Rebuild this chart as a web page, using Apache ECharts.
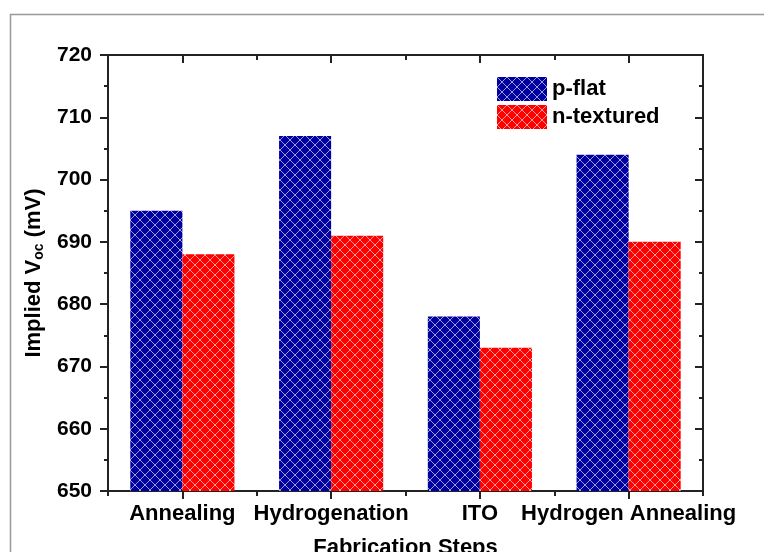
<!DOCTYPE html>
<html>
<head>
<meta charset="utf-8">
<script src="https://cdn.jsdelivr.net/npm/echarts@6/dist/echarts.min.js"></script>
<style>
  html, body { margin: 0; padding: 0; background: #fff; }
  #main { width: 764px; height: 552px; }
</style>
</head>
<body>
<div id="main"></div>
<script>
var categories = ['Annealing', 'Hydrogenation', 'ITO', 'Hydrogen Annealing'];
var pFlat = [695, 707, 678, 704];
var nTextured = [688, 691, 673, 690];
var yTicks = [650, 660, 670, 680, 690, 700, 710, 720];

// cross-hatch fill like the origin plot
function hatch(color) {
    var c = document.createElement('canvas');
    c.width = 10; c.height = 10;
    var ctx = c.getContext('2d');
    ctx.fillStyle = color;
    ctx.fillRect(0, 0, 10, 10);
    ctx.strokeStyle = 'rgba(255,255,255,0.6)';
    ctx.lineWidth = 1;
    ctx.beginPath();
    ctx.moveTo(-1, -1); ctx.lineTo(11, 11);
    ctx.moveTo(11, -1); ctx.lineTo(-1, 11);
    ctx.stroke();
    return { image: c, repeat: 'repeat' };
}

var axisLine = { show: true, lineStyle: { color: '#222', width: 2 } };
var font = 'Liberation Sans, Arial, sans-serif';

function catAxis(pos, center, len, inside, labels) {
    return {
        type: 'category',
        data: categories,
        position: pos,
        axisLine: axisLine,
        axisTick: { show: true, alignWithLabel: center, inside: inside, length: len,
                    lineStyle: { color: '#222', width: 2 } },
        axisLabel: labels ? { show: true, interval: 0, hideOverlap: false, color: '#000', fontSize: 22,
                              fontWeight: 'bold', fontFamily: font, margin: 12 } : { show: false },
        splitLine: { show: false }
    };
}

function valAxis(pos, inside, labels) {
    return {
        type: 'value',
        position: pos,
        min: yTicks[0],
        max: yTicks[yTicks.length - 1],
        interval: 10,
        axisLine: axisLine,
        axisTick: { show: true, inside: inside, length: 8, lineStyle: { color: '#222', width: 2 } },
        minorTick: { show: true, splitNumber: 2, length: 4, lineStyle: { color: '#222', width: 2 } },
        axisLabel: labels ? { show: true, color: '#000', fontSize: 21, fontWeight: 'bold',
                              fontFamily: font, margin: 16 } : { show: false },
        splitLine: { show: false }
    };
}

var xBottom = catAxis('bottom', true, 8, false, true);
xBottom.name = 'Fabrication Steps';
xBottom.nameLocation = 'middle';
xBottom.nameGap = 46;
xBottom.nameTextStyle = { color: '#000', fontSize: 22, fontWeight: 'bold', fontFamily: font };

var yLeft = valAxis('left', false, true);
yLeft.name = 'Implied V{sub|oc} (mV)';
yLeft.nameLocation = 'middle';
yLeft.nameGap = 52;
yLeft.nameTextStyle = {
    color: '#000', fontSize: 22, fontWeight: 'bold', fontFamily: font,
    rich: { sub: { fontSize: 14, fontWeight: 'bold', fontFamily: font, color: '#000',
                   verticalAlign: 'bottom', padding: [10, 0, 0, 0] } }
};

var chart = echarts.init(document.getElementById('main'));
chart.setOption({
    backgroundColor: '#fff',
    animation: false,
    grid: { left: 108, right: 61, top: 55, bottom: 61, containLabel: false, outerBoundsMode: 'none' },
    graphic: [{
        type: 'rect', left: 8, top: 12, silent: true,
        shape: { width: 800, height: 600 },
        style: { fill: 'none', stroke: '#999', lineWidth: 1.5 }
    }],
    legend: {
        orient: 'vertical', left: 497, top: 77, padding: 0, itemWidth: 50, itemHeight: 24, itemGap: 4,
        icon: 'rect',
        textStyle: { color: '#000', fontSize: 22, fontWeight: 'bold', fontFamily: font },
        data: ['p-flat', 'n-textured']
    },
    xAxis: [
        xBottom,
        catAxis('bottom', false, 5, false, false),
        catAxis('top', true, 8, true, false),
        catAxis('top', false, 5, true, false)
    ],
    yAxis: [
        yLeft,
        valAxis('right', true, false)
    ],
    series: [
        { name: 'p-flat', type: 'bar', data: pFlat, barGap: 0, barCategoryGap: '30%',
          itemStyle: { color: hatch('#0000a0') } },
        { name: 'n-textured', type: 'bar', data: nTextured, barGap: 0, barCategoryGap: '30%',
          itemStyle: { color: hatch('#ff0000') } }
    ]
});
</script>
</body>
</html>
